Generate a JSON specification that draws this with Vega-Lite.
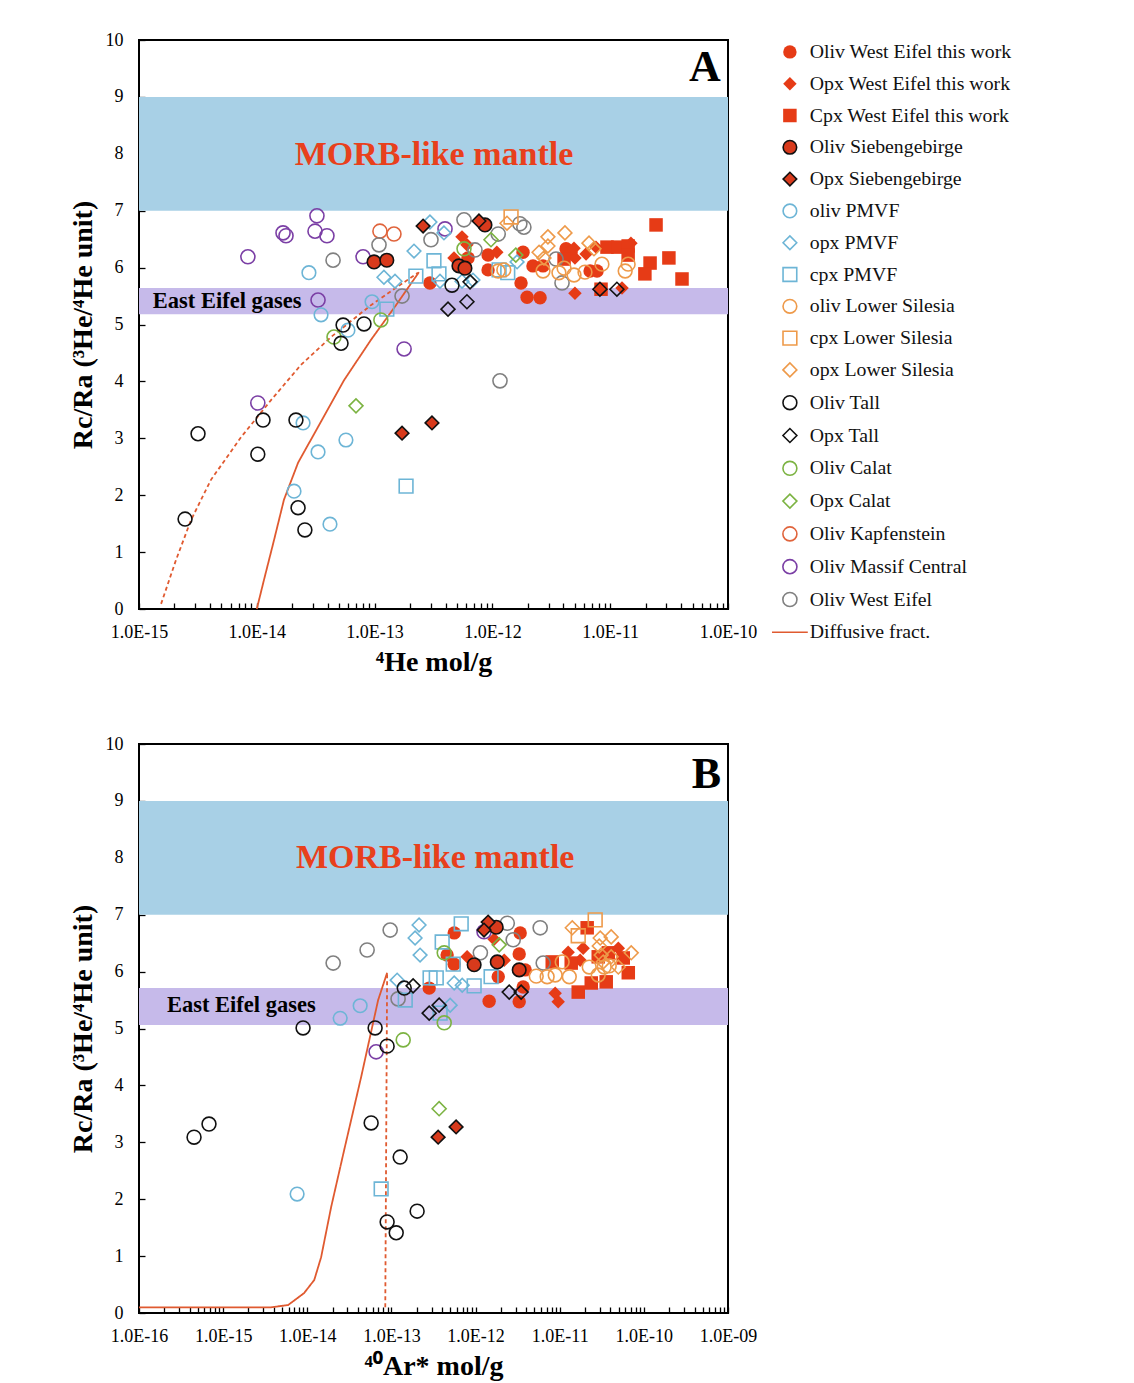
{
  "$schema": "https://vega.github.io/schema/vega-lite/v6.json",
  "background": "white",
  "padding": {"left": 68, "top": 30, "right": 5, "bottom": 2},
  "spacing": 57,
  "datasets": {
    "bandsA": [
      {"band": "MORB", "x": 1e-15, "x2": 1e-10, "y": 7, "y2": 9},
      {"band": "EE", "x": 1e-15, "x2": 1e-10, "y": 5.18, "y2": 5.64}
    ],
    "bandsB": [
      {"band": "MORB", "x": 1e-16, "x2": 1e-9, "y": 7, "y2": 9},
      {"band": "EE", "x": 1e-16, "x2": 1e-9, "y": 5.06, "y2": 5.71}
    ],
    "textA": [
      {"kind": "morb", "label": "MORB-like mantle", "x": 3.19e-13, "y": 7.98},
      {"kind": "ee", "label": "East Eifel gases", "x": 1.31e-15, "y": 5.41},
      {"kind": "panel", "label": "A", "x": 8.7e-11, "y": 9.5}
    ],
    "textB": [
      {"kind": "morb", "label": "MORB-like mantle", "x": 3.31e-13, "y": 8.0},
      {"kind": "ee", "label": "East Eifel gases", "x": 2.15e-16, "y": 5.41},
      {"kind": "panel", "label": "B", "x": 8.3e-10, "y": 9.45}
    ],
    "linesA": [
      {"series": "Diffusive fract.", "curve": "solid", "x": 1.0e-14, "y": 0},
      {"series": "Diffusive fract.", "curve": "solid", "x": 1.15e-14, "y": 0.51},
      {"series": "Diffusive fract.", "curve": "solid", "x": 1.40e-14, "y": 1.21},
      {"series": "Diffusive fract.", "curve": "solid", "x": 1.70e-14, "y": 1.92},
      {"series": "Diffusive fract.", "curve": "solid", "x": 2.24e-14, "y": 2.57},
      {"series": "Diffusive fract.", "curve": "solid", "x": 3.31e-14, "y": 3.20},
      {"series": "Diffusive fract.", "curve": "solid", "x": 5.50e-14, "y": 4.02},
      {"series": "Diffusive fract.", "curve": "solid", "x": 9.31e-14, "y": 4.73},
      {"series": "Diffusive fract.", "curve": "solid", "x": 1.52e-13, "y": 5.34},
      {"series": "Diffusive fract.", "curve": "solid", "x": 2.38e-13, "y": 5.92},
      {"series": "Diffusive fract.", "curve": "dashed", "x": 1.54e-15, "y": 0.09},
      {"series": "Diffusive fract.", "curve": "dashed", "x": 2.06e-15, "y": 0.86},
      {"series": "Diffusive fract.", "curve": "dashed", "x": 2.76e-15, "y": 1.56},
      {"series": "Diffusive fract.", "curve": "dashed", "x": 4.08e-15, "y": 2.27},
      {"series": "Diffusive fract.", "curve": "dashed", "x": 7.35e-15, "y": 3.02},
      {"series": "Diffusive fract.", "curve": "dashed", "x": 1.32e-14, "y": 3.67},
      {"series": "Diffusive fract.", "curve": "dashed", "x": 2.37e-14, "y": 4.29},
      {"series": "Diffusive fract.", "curve": "dashed", "x": 4.27e-14, "y": 4.78},
      {"series": "Diffusive fract.", "curve": "dashed", "x": 9.31e-14, "y": 5.34},
      {"series": "Diffusive fract.", "curve": "dashed", "x": 2.33e-13, "y": 5.91}
    ],
    "linesB": [
      {"series": "Diffusive fract.", "curve": "solid", "x": 1e-16, "y": 0.1},
      {"series": "Diffusive fract.", "curve": "solid", "x": 5.46e-16, "y": 0.1},
      {"series": "Diffusive fract.", "curve": "solid", "x": 3.72e-15, "y": 0.1},
      {"series": "Diffusive fract.", "curve": "solid", "x": 5.92e-15, "y": 0.14},
      {"series": "Diffusive fract.", "curve": "solid", "x": 9.16e-15, "y": 0.35},
      {"series": "Diffusive fract.", "curve": "solid", "x": 1.21e-14, "y": 0.58},
      {"series": "Diffusive fract.", "curve": "solid", "x": 1.46e-14, "y": 0.98},
      {"series": "Diffusive fract.", "curve": "solid", "x": 1.92e-14, "y": 1.86},
      {"series": "Diffusive fract.", "curve": "solid", "x": 2.74e-14, "y": 2.86},
      {"series": "Diffusive fract.", "curve": "solid", "x": 4.37e-14, "y": 4.15},
      {"series": "Diffusive fract.", "curve": "solid", "x": 6.95e-14, "y": 5.50},
      {"series": "Diffusive fract.", "curve": "solid", "x": 8.89e-14, "y": 5.98},
      {"series": "Diffusive fract.", "curve": "dashed", "x": 8.45e-14, "y": 0.1},
      {"series": "Diffusive fract.", "curve": "dashed", "x": 8.89e-14, "y": 5.98}
    ],
    "ptsA": [
      {"series": "Oliv West Eifel this work", "x": 2.95e-13, "y": 5.73},
      {"series": "Oliv West Eifel this work", "x": 6.21e-13, "y": 6.17},
      {"series": "Oliv West Eifel this work", "x": 9.19e-13, "y": 6.22},
      {"series": "Oliv West Eifel this work", "x": 9.19e-13, "y": 5.96},
      {"series": "Oliv West Eifel this work", "x": 1.82e-12, "y": 6.27},
      {"series": "Oliv West Eifel this work", "x": 1.75e-12, "y": 5.73},
      {"series": "Oliv West Eifel this work", "x": 1.97e-12, "y": 5.48},
      {"series": "Oliv West Eifel this work", "x": 2.54e-12, "y": 5.47},
      {"series": "Oliv West Eifel this work", "x": 2.21e-12, "y": 6.03},
      {"series": "Oliv West Eifel this work", "x": 2.69e-12, "y": 6.03},
      {"series": "Oliv West Eifel this work", "x": 4.22e-12, "y": 6.33},
      {"series": "Oliv West Eifel this work", "x": 4.65e-12, "y": 6.27},
      {"series": "Oliv West Eifel this work", "x": 6.75e-12, "y": 5.94},
      {"series": "Oliv West Eifel this work", "x": 7.73e-12, "y": 5.94},
      {"series": "Opx West Eifel this work", "x": 4.72e-13, "y": 6.17},
      {"series": "Opx West Eifel this work", "x": 5.52e-13, "y": 6.54},
      {"series": "Opx West Eifel this work", "x": 6.08e-13, "y": 6.40},
      {"series": "Opx West Eifel this work", "x": 1.09e-12, "y": 6.27},
      {"series": "Opx West Eifel this work", "x": 5.02e-12, "y": 5.55},
      {"series": "Opx West Eifel this work", "x": 1.26e-11, "y": 5.64},
      {"series": "Opx West Eifel this work", "x": 6.24e-12, "y": 6.24},
      {"series": "Opx West Eifel this work", "x": 5.02e-12, "y": 6.17},
      {"series": "Opx West Eifel this work", "x": 4.93e-12, "y": 6.34},
      {"series": "Opx West Eifel this work", "x": 7.57e-12, "y": 6.36},
      {"series": "Opx West Eifel this work", "x": 1.50e-11, "y": 6.43},
      {"series": "Cpx West Eifel this work", "x": 2.45e-11, "y": 6.75},
      {"series": "Cpx West Eifel this work", "x": 3.15e-11, "y": 6.17},
      {"series": "Cpx West Eifel this work", "x": 4.07e-11, "y": 5.80},
      {"series": "Cpx West Eifel this work", "x": 2.18e-11, "y": 6.08},
      {"series": "Cpx West Eifel this work", "x": 1.97e-11, "y": 5.89},
      {"series": "Cpx West Eifel this work", "x": 9.39e-12, "y": 6.36},
      {"series": "Cpx West Eifel this work", "x": 1.16e-11, "y": 6.36},
      {"series": "Cpx West Eifel this work", "x": 1.42e-11, "y": 6.38},
      {"series": "Cpx West Eifel this work", "x": 1.42e-11, "y": 6.22},
      {"series": "Cpx West Eifel this work", "x": 4.06e-12, "y": 6.15},
      {"series": "Cpx West Eifel this work", "x": 8.36e-12, "y": 5.62},
      {"series": "Oliv Massif Central", "x": 3.24e-14, "y": 6.91},
      {"series": "Oliv Massif Central", "x": 1.67e-14, "y": 6.61},
      {"series": "Oliv Massif Central", "x": 1.77e-14, "y": 6.56},
      {"series": "Oliv Massif Central", "x": 3.12e-14, "y": 6.64},
      {"series": "Oliv Massif Central", "x": 3.94e-14, "y": 6.56},
      {"series": "Oliv Massif Central", "x": 8.4e-15, "y": 6.19},
      {"series": "Oliv Massif Central", "x": 7.98e-14, "y": 6.19},
      {"series": "Oliv Massif Central", "x": 3.31e-14, "y": 5.43},
      {"series": "Oliv Massif Central", "x": 1.78e-13, "y": 4.57},
      {"series": "Oliv Massif Central", "x": 1.02e-14, "y": 3.62},
      {"series": "Oliv Massif Central", "x": 3.96e-13, "y": 6.68},
      {"series": "Oliv Kapfenstein", "x": 1.11e-13, "y": 6.64},
      {"series": "Oliv Kapfenstein", "x": 1.46e-13, "y": 6.59},
      {"series": "Oliv West Eifel", "x": 4.44e-14, "y": 6.13},
      {"series": "Oliv West Eifel", "x": 1.09e-13, "y": 6.40},
      {"series": "Oliv West Eifel", "x": 1.71e-13, "y": 5.50},
      {"series": "Oliv West Eifel", "x": 3.01e-13, "y": 6.49},
      {"series": "Oliv West Eifel", "x": 5.74e-13, "y": 6.84},
      {"series": "Oliv West Eifel", "x": 7.11e-13, "y": 6.31},
      {"series": "Oliv West Eifel", "x": 1.12e-12, "y": 6.59},
      {"series": "Oliv West Eifel", "x": 1.71e-12, "y": 6.77},
      {"series": "Oliv West Eifel", "x": 1.85e-12, "y": 6.71},
      {"series": "Oliv West Eifel", "x": 3.47e-12, "y": 6.15},
      {"series": "Oliv West Eifel", "x": 3.90e-12, "y": 5.73},
      {"series": "Oliv West Eifel", "x": 1.16e-12, "y": 4.01},
      {"series": "oliv PMVF", "x": 2.77e-14, "y": 5.91},
      {"series": "oliv PMVF", "x": 3.51e-14, "y": 5.17},
      {"series": "oliv PMVF", "x": 5.94e-14, "y": 4.90},
      {"series": "oliv PMVF", "x": 9.51e-14, "y": 5.40},
      {"series": "oliv PMVF", "x": 2.47e-14, "y": 3.27},
      {"series": "oliv PMVF", "x": 3.31e-14, "y": 2.76},
      {"series": "oliv PMVF", "x": 5.71e-14, "y": 2.97},
      {"series": "oliv PMVF", "x": 2.07e-14, "y": 2.07},
      {"series": "oliv PMVF", "x": 4.18e-14, "y": 1.49},
      {"series": "opx PMVF", "x": 1.20e-13, "y": 5.83},
      {"series": "opx PMVF", "x": 1.49e-13, "y": 5.76},
      {"series": "opx PMVF", "x": 2.16e-13, "y": 6.29},
      {"series": "opx PMVF", "x": 2.95e-13, "y": 6.80},
      {"series": "opx PMVF", "x": 3.88e-13, "y": 6.61},
      {"series": "opx PMVF", "x": 3.59e-13, "y": 5.76},
      {"series": "opx PMVF", "x": 5.52e-13, "y": 5.76},
      {"series": "opx PMVF", "x": 6.84e-13, "y": 5.78},
      {"series": "opx PMVF", "x": 1.62e-12, "y": 6.10},
      {"series": "cpx PMVF", "x": 1.27e-13, "y": 5.27},
      {"series": "cpx PMVF", "x": 2.24e-13, "y": 5.85},
      {"series": "cpx PMVF", "x": 3.19e-13, "y": 6.12},
      {"series": "cpx PMVF", "x": 3.52e-13, "y": 5.89},
      {"series": "cpx PMVF", "x": 1.14e-12, "y": 5.96},
      {"series": "cpx PMVF", "x": 1.35e-12, "y": 5.91},
      {"series": "cpx PMVF", "x": 1.85e-13, "y": 2.16},
      {"series": "oliv Lower Silesia", "x": 1.12e-12, "y": 5.94},
      {"series": "oliv Lower Silesia", "x": 1.25e-12, "y": 5.96},
      {"series": "oliv Lower Silesia", "x": 2.69e-12, "y": 5.94},
      {"series": "oliv Lower Silesia", "x": 3.67e-12, "y": 5.91},
      {"series": "oliv Lower Silesia", "x": 4.93e-12, "y": 5.87},
      {"series": "oliv Lower Silesia", "x": 6.11e-12, "y": 5.92},
      {"series": "oliv Lower Silesia", "x": 8.51e-12, "y": 6.06},
      {"series": "oliv Lower Silesia", "x": 1.34e-11, "y": 5.94},
      {"series": "oliv Lower Silesia", "x": 1.42e-11, "y": 6.06},
      {"series": "oliv Lower Silesia", "x": 4.06e-12, "y": 5.99},
      {"series": "cpx Lower Silesia", "x": 1.44e-12, "y": 6.89},
      {"series": "opx Lower Silesia", "x": 1.33e-12, "y": 6.78},
      {"series": "opx Lower Silesia", "x": 2.96e-12, "y": 6.54},
      {"series": "opx Lower Silesia", "x": 4.13e-12, "y": 6.61},
      {"series": "opx Lower Silesia", "x": 2.96e-12, "y": 6.38},
      {"series": "opx Lower Silesia", "x": 2.49e-12, "y": 6.27},
      {"series": "opx Lower Silesia", "x": 2.74e-12, "y": 6.17},
      {"series": "opx Lower Silesia", "x": 6.61e-12, "y": 6.43},
      {"series": "opx Lower Silesia", "x": 7.28e-12, "y": 6.33},
      {"series": "Oliv Calat", "x": 4.52e-14, "y": 4.78},
      {"series": "Oliv Calat", "x": 1.13e-13, "y": 5.08},
      {"series": "Oliv Calat", "x": 5.74e-13, "y": 6.33},
      {"series": "Opx Calat", "x": 6.95e-14, "y": 3.57},
      {"series": "Opx Calat", "x": 9.73e-13, "y": 6.49},
      {"series": "Opx Calat", "x": 1.58e-12, "y": 6.22},
      {"series": "Oliv Tall", "x": 2.46e-15, "y": 1.58},
      {"series": "Oliv Tall", "x": 3.17e-15, "y": 3.08},
      {"series": "Oliv Tall", "x": 1.02e-14, "y": 2.72},
      {"series": "Oliv Tall", "x": 1.13e-14, "y": 3.32},
      {"series": "Oliv Tall", "x": 2.15e-14, "y": 3.32},
      {"series": "Oliv Tall", "x": 2.24e-14, "y": 1.78},
      {"series": "Oliv Tall", "x": 2.56e-14, "y": 1.39},
      {"series": "Oliv Tall", "x": 5.40e-14, "y": 4.99},
      {"series": "Oliv Tall", "x": 8.13e-14, "y": 5.01},
      {"series": "Oliv Tall", "x": 5.19e-14, "y": 4.67},
      {"series": "Oliv Tall", "x": 4.54e-13, "y": 5.69},
      {"series": "Opx Tall", "x": 4.2e-13, "y": 5.27},
      {"series": "Opx Tall", "x": 6.08e-13, "y": 5.40},
      {"series": "Opx Tall", "x": 6.46e-13, "y": 5.75},
      {"series": "Opx Tall", "x": 8.18e-12, "y": 5.62},
      {"series": "Opx Tall", "x": 1.14e-11, "y": 5.62},
      {"series": "Oliv Siebengebirge", "x": 9.89e-14, "y": 6.10},
      {"series": "Oliv Siebengebirge", "x": 1.27e-13, "y": 6.13},
      {"series": "Oliv Siebengebirge", "x": 5.2e-13, "y": 6.03},
      {"series": "Oliv Siebengebirge", "x": 5.85e-13, "y": 5.99},
      {"series": "Oliv Siebengebirge", "x": 8.65e-13, "y": 6.75},
      {"series": "Opx Siebengebirge", "x": 2.58e-13, "y": 6.73},
      {"series": "Opx Siebengebirge", "x": 7.69e-13, "y": 6.82},
      {"series": "Opx Siebengebirge", "x": 1.71e-13, "y": 3.09},
      {"series": "Opx Siebengebirge", "x": 3.07e-13, "y": 3.27}
    ],
    "ptsB": [
      {"series": "Oliv West Eifel this work", "x": 5.57e-13, "y": 6.68},
      {"series": "Oliv West Eifel this work", "x": 4.59e-13, "y": 6.29},
      {"series": "Oliv West Eifel this work", "x": 5.57e-13, "y": 6.13},
      {"series": "Oliv West Eifel this work", "x": 2.81e-13, "y": 5.71},
      {"series": "Oliv West Eifel this work", "x": 1.45e-12, "y": 5.48},
      {"series": "Oliv West Eifel this work", "x": 3.39e-12, "y": 6.68},
      {"series": "Oliv West Eifel this work", "x": 3.30e-12, "y": 6.31},
      {"series": "Oliv West Eifel this work", "x": 3.30e-12, "y": 5.47},
      {"series": "Oliv West Eifel this work", "x": 1.86e-12, "y": 5.91},
      {"series": "Oliv West Eifel this work", "x": 3.89e-12, "y": 6.03},
      {"series": "Oliv West Eifel this work", "x": 3.68e-12, "y": 5.73},
      {"series": "Opx West Eifel this work", "x": 7.94e-13, "y": 6.26},
      {"series": "Opx West Eifel this work", "x": 1.66e-12, "y": 6.57},
      {"series": "Opx West Eifel this work", "x": 2.19e-12, "y": 6.20},
      {"series": "Opx West Eifel this work", "x": 1.26e-11, "y": 6.34},
      {"series": "Opx West Eifel this work", "x": 1.90e-11, "y": 6.41},
      {"series": "Opx West Eifel this work", "x": 1.75e-11, "y": 6.20},
      {"series": "Opx West Eifel this work", "x": 8.83e-12, "y": 5.62},
      {"series": "Opx West Eifel this work", "x": 9.59e-12, "y": 5.47},
      {"series": "Opx West Eifel this work", "x": 4.97e-11, "y": 6.41},
      {"series": "Cpx West Eifel this work", "x": 8.15e-12, "y": 6.17},
      {"series": "Cpx West Eifel this work", "x": 1.37e-11, "y": 6.15},
      {"series": "Cpx West Eifel this work", "x": 2.12e-11, "y": 6.77},
      {"series": "Cpx West Eifel this work", "x": 2.87e-11, "y": 6.26},
      {"series": "Cpx West Eifel this work", "x": 2.37e-11, "y": 5.80},
      {"series": "Cpx West Eifel this work", "x": 3.57e-11, "y": 5.82},
      {"series": "Cpx West Eifel this work", "x": 1.66e-11, "y": 5.64},
      {"series": "Cpx West Eifel this work", "x": 5.69e-11, "y": 6.24},
      {"series": "Cpx West Eifel this work", "x": 6.53e-11, "y": 5.98},
      {"series": "Cpx West Eifel this work", "x": 3.78e-11, "y": 6.33},
      {"series": "Oliv Massif Central", "x": 6.58e-14, "y": 4.59},
      {"series": "Oliv Massif Central", "x": 1.26e-12, "y": 6.70},
      {"series": "Oliv West Eifel", "x": 9.66e-14, "y": 6.73},
      {"series": "Oliv West Eifel", "x": 5.14e-14, "y": 6.38},
      {"series": "Oliv West Eifel", "x": 2.03e-14, "y": 6.15},
      {"series": "Oliv West Eifel", "x": 1.14e-12, "y": 6.33},
      {"series": "Oliv West Eifel", "x": 2.38e-12, "y": 6.85},
      {"series": "Oliv West Eifel", "x": 2.80e-12, "y": 6.56},
      {"series": "Oliv West Eifel", "x": 1.20e-13, "y": 5.52},
      {"series": "Oliv West Eifel", "x": 5.86e-12, "y": 6.77},
      {"series": "Oliv West Eifel", "x": 6.37e-12, "y": 6.15},
      {"series": "oliv PMVF", "x": 7.57e-15, "y": 2.09},
      {"series": "oliv PMVF", "x": 2.46e-14, "y": 5.18},
      {"series": "oliv PMVF", "x": 4.25e-14, "y": 5.40},
      {"series": "opx PMVF", "x": 2.13e-13, "y": 6.82},
      {"series": "opx PMVF", "x": 1.91e-13, "y": 6.59},
      {"series": "opx PMVF", "x": 2.19e-13, "y": 6.29},
      {"series": "opx PMVF", "x": 1.17e-13, "y": 5.85},
      {"series": "opx PMVF", "x": 5.57e-13, "y": 5.80},
      {"series": "opx PMVF", "x": 6.94e-13, "y": 5.76},
      {"series": "opx PMVF", "x": 4.99e-13, "y": 5.41},
      {"series": "cpx PMVF", "x": 6.75e-13, "y": 6.84},
      {"series": "cpx PMVF", "x": 4.01e-13, "y": 6.52},
      {"series": "cpx PMVF", "x": 5.42e-13, "y": 6.13},
      {"series": "cpx PMVF", "x": 2.88e-13, "y": 5.89},
      {"series": "cpx PMVF", "x": 3.41e-13, "y": 5.89},
      {"series": "cpx PMVF", "x": 9.62e-13, "y": 5.75},
      {"series": "cpx PMVF", "x": 1.46e-13, "y": 5.50},
      {"series": "cpx PMVF", "x": 3.79e-13, "y": 5.27},
      {"series": "cpx PMVF", "x": 1.53e-12, "y": 5.91},
      {"series": "cpx PMVF", "x": 7.55e-14, "y": 2.18},
      {"series": "oliv Lower Silesia", "x": 5.26e-12, "y": 5.92},
      {"series": "oliv Lower Silesia", "x": 7.09e-12, "y": 5.91},
      {"series": "oliv Lower Silesia", "x": 8.83e-12, "y": 5.94},
      {"series": "oliv Lower Silesia", "x": 1.07e-11, "y": 6.17},
      {"series": "oliv Lower Silesia", "x": 1.30e-11, "y": 5.91},
      {"series": "oliv Lower Silesia", "x": 2.24e-11, "y": 6.08},
      {"series": "oliv Lower Silesia", "x": 2.87e-11, "y": 5.94},
      {"series": "oliv Lower Silesia", "x": 3.38e-11, "y": 6.08},
      {"series": "oliv Lower Silesia", "x": 3.88e-11, "y": 6.10},
      {"series": "cpx Lower Silesia", "x": 1.66e-11, "y": 6.63},
      {"series": "cpx Lower Silesia", "x": 2.64e-11, "y": 6.91},
      {"series": "opx Lower Silesia", "x": 1.41e-11, "y": 6.77},
      {"series": "opx Lower Silesia", "x": 3.03e-11, "y": 6.59},
      {"series": "opx Lower Silesia", "x": 4.09e-11, "y": 6.61},
      {"series": "opx Lower Silesia", "x": 3.11e-11, "y": 6.29},
      {"series": "opx Lower Silesia", "x": 4.09e-11, "y": 6.26},
      {"series": "opx Lower Silesia", "x": 7.08e-11, "y": 6.33},
      {"series": "opx Lower Silesia", "x": 3.29e-11, "y": 6.17},
      {"series": "opx Lower Silesia", "x": 4.97e-11, "y": 6.08},
      {"series": "opx Lower Silesia", "x": 2.95e-11, "y": 6.45},
      {"series": "Oliv Calat", "x": 1.38e-13, "y": 4.80},
      {"series": "Oliv Calat", "x": 4.24e-13, "y": 5.10},
      {"series": "Oliv Calat", "x": 4.24e-13, "y": 6.33},
      {"series": "Opx Calat", "x": 3.69e-13, "y": 3.59},
      {"series": "Opx Calat", "x": 1.91e-12, "y": 6.47},
      {"series": "Oliv Tall", "x": 4.51e-16, "y": 3.09},
      {"series": "Oliv Tall", "x": 6.79e-16, "y": 3.32},
      {"series": "Oliv Tall", "x": 8.91e-15, "y": 5.01},
      {"series": "Oliv Tall", "x": 6.40e-14, "y": 5.01},
      {"series": "Oliv Tall", "x": 8.89e-14, "y": 4.69},
      {"series": "Oliv Tall", "x": 5.74e-14, "y": 3.34},
      {"series": "Oliv Tall", "x": 1.27e-13, "y": 2.74},
      {"series": "Oliv Tall", "x": 2.02e-13, "y": 1.79},
      {"series": "Oliv Tall", "x": 8.89e-14, "y": 1.60},
      {"series": "Oliv Tall", "x": 1.14e-13, "y": 1.41},
      {"series": "Oliv Tall", "x": 1.42e-13, "y": 5.71},
      {"series": "Opx Tall", "x": 1.81e-13, "y": 5.75},
      {"series": "Opx Tall", "x": 2.81e-13, "y": 5.27},
      {"series": "Opx Tall", "x": 3.69e-13, "y": 5.41},
      {"series": "Opx Tall", "x": 2.51e-12, "y": 5.64},
      {"series": "Opx Tall", "x": 3.48e-12, "y": 5.64},
      {"series": "Oliv Siebengebirge", "x": 9.62e-13, "y": 6.12},
      {"series": "Oliv Siebengebirge", "x": 1.76e-12, "y": 6.78},
      {"series": "Oliv Siebengebirge", "x": 1.81e-12, "y": 6.17},
      {"series": "Oliv Siebengebirge", "x": 3.30e-12, "y": 6.03},
      {"series": "Opx Siebengebirge", "x": 1.41e-12, "y": 6.87},
      {"series": "Opx Siebengebirge", "x": 1.26e-12, "y": 6.73},
      {"series": "Opx Siebengebirge", "x": 3.59e-13, "y": 3.09},
      {"series": "Opx Siebengebirge", "x": 5.87e-13, "y": 3.27}
    ]
  },
  "vconcat": [
    {
      "width": 589,
      "height": 569,
      "encoding": {
        "x": {"field": "x", "type": "quantitative",
          "scale": {"type": "log", "domain": [1e-15, 1e-10], "nice": false},
          "axis": {"title": "⁴He mol/g",
            "values": [1e-15,2e-15,3e-15,4e-15,5e-15,6e-15,7e-15,8e-15,9e-15,1e-14,2e-14,3e-14,4e-14,5e-14,6e-14,7e-14,8e-14,9e-14,1e-13,2e-13,3e-13,4e-13,5e-13,6e-13,7e-13,8e-13,9e-13,1e-12,2e-12,3e-12,4e-12,5e-12,6e-12,7e-12,8e-12,9e-12,1e-11,2e-11,3e-11,4e-11,5e-11,6e-11,7e-11,8e-11,9e-11,1e-10],
            "labelExpr": "abs(log(datum.value)/LN10 - round(log(datum.value)/LN10)) < 0.01 ? (round(log(datum.value)/LN10) <= -10 ? '1.0E' + round(log(datum.value)/LN10) : '1.0E-0' + abs(round(log(datum.value)/LN10))) : ''"}},
        "y": {"field": "y", "type": "quantitative",
          "scale": {"domain": [0, 10], "nice": false},
          "axis": {"title": "Rc/Ra (³He/⁴He unit)", "values": [0,1,2,3,4,5,6,7,8,9,10]}}
      },
      "layer": [
        {"data": {"name": "bandsA"}, "transform": [{"filter": "datum.band === 'MORB'"}],
          "mark": {"type": "rect", "color": "#a8d0e6"},
          "encoding": {"x2": {"field": "x2"}, "y2": {"field": "y2"}}},
        {"data": {"name": "bandsA"}, "transform": [{"filter": "datum.band === 'EE'"}],
          "mark": {"type": "rect", "color": "#c6baea"},
          "encoding": {"x2": {"field": "x2"}, "y2": {"field": "y2"}}},
        {"data": {"name": "textA"}, "transform": [{"filter": "datum.kind === 'morb'"}],
          "mark": {"type": "text", "font": "Liberation Serif", "fontWeight": "bold", "fontSize": 34, "color": "#e8401c", "align": "center", "baseline": "middle"},
          "encoding": {"text": {"field": "label"}}},
        {"data": {"name": "textA"}, "transform": [{"filter": "datum.kind === 'ee'"}],
          "mark": {"type": "text", "font": "Liberation Serif", "fontWeight": "bold", "fontSize": 22.5, "color": "#000", "align": "left", "baseline": "middle"},
          "encoding": {"text": {"field": "label"}}},
        {"data": {"name": "textA"}, "transform": [{"filter": "datum.kind === 'panel'"}],
          "mark": {"type": "text", "font": "Liberation Serif", "fontWeight": "bold", "fontSize": 44, "color": "#000", "align": "right", "baseline": "middle"},
          "encoding": {"text": {"field": "label"}}},
        {"data": {"name": "linesA"},
          "mark": {"type": "line", "strokeWidth": 1.8},
          "encoding": {
            "detail": {"field": "curve"},
            "strokeDash": {"field": "curve", "scale": {"domain": ["solid", "dashed"], "range": [[1, 0], [4, 3]]}, "legend": null},
            "stroke": {"field": "series", "type": "nominal",
              "scale": {"domain": ["Oliv West Eifel this work","Opx West Eifel this work","Cpx West Eifel this work","Oliv Siebengebirge","Opx Siebengebirge","oliv PMVF","opx PMVF","cpx PMVF","oliv Lower Silesia","cpx Lower Silesia","opx Lower Silesia","Oliv Tall","Opx Tall","Oliv Calat","Opx Calat","Oliv Kapfenstein","Oliv Massif Central","Oliv West Eifel","Diffusive fract."],
                "range": ["transparent","transparent","transparent","#111111","#111111","#6db5d6","#6db5d6","#6db5d6","#ee9a4a","#ee9a4a","#ee9a4a","#111111","#111111","#7cb342","#7cb342","#e0643c","#7b3fa5","#808080","#e05a30"]},
              "legend": {"title": null, "orient": "none", "legendX": 641, "legendY": 2, "labelFont": "Liberation Serif", "labelFontSize": 19.8, "labelColor": "#111", "rowPadding": 10.8, "labelOffset": 10, "labelLimit": 400, "symbolStrokeWidth": 1.6, "symbolSize": 95}}
          }},
        {"data": {"name": "ptsA"},
          "mark": {"type": "point", "strokeWidth": 1.6, "opacity": 1},
          "encoding": {
            "fill": {"field": "series", "type": "nominal",
              "scale": {"domain": ["Oliv West Eifel this work","Opx West Eifel this work","Cpx West Eifel this work","Oliv Siebengebirge","Opx Siebengebirge","oliv PMVF","opx PMVF","cpx PMVF","oliv Lower Silesia","cpx Lower Silesia","opx Lower Silesia","Oliv Tall","Opx Tall","Oliv Calat","Opx Calat","Oliv Kapfenstein","Oliv Massif Central","Oliv West Eifel","Diffusive fract."],
                "range": ["#e63b16","#e63b16","#e63b16","#d83a1c","#d83a1c","transparent","transparent","transparent","transparent","transparent","transparent","transparent","transparent","transparent","transparent","transparent","transparent","transparent","transparent"]},
              "legend": {"title": null, "orient": "none", "legendX": 641, "legendY": 2, "labelFont": "Liberation Serif", "labelFontSize": 19.8, "labelColor": "#111", "rowPadding": 10.8, "labelOffset": 10, "labelLimit": 400, "symbolStrokeWidth": 1.6, "symbolSize": 95}},
            "stroke": {"field": "series", "type": "nominal",
              "scale": {"domain": ["Oliv West Eifel this work","Opx West Eifel this work","Cpx West Eifel this work","Oliv Siebengebirge","Opx Siebengebirge","oliv PMVF","opx PMVF","cpx PMVF","oliv Lower Silesia","cpx Lower Silesia","opx Lower Silesia","Oliv Tall","Opx Tall","Oliv Calat","Opx Calat","Oliv Kapfenstein","Oliv Massif Central","Oliv West Eifel","Diffusive fract."],
                "range": ["transparent","transparent","transparent","#111111","#111111","#6db5d6","#6db5d6","#6db5d6","#ee9a4a","#ee9a4a","#ee9a4a","#111111","#111111","#7cb342","#7cb342","#e0643c","#7b3fa5","#808080","#e05a30"]},
              "legend": {"title": null, "orient": "none", "legendX": 641, "legendY": 2, "labelFont": "Liberation Serif", "labelFontSize": 19.8, "labelColor": "#111", "rowPadding": 10.8, "labelOffset": 10, "labelLimit": 400, "symbolStrokeWidth": 1.6, "symbolSize": 95}},
            "shape": {"field": "series", "type": "nominal",
              "scale": {"domain": ["Oliv West Eifel this work","Opx West Eifel this work","Cpx West Eifel this work","Oliv Siebengebirge","Opx Siebengebirge","oliv PMVF","opx PMVF","cpx PMVF","oliv Lower Silesia","cpx Lower Silesia","opx Lower Silesia","Oliv Tall","Opx Tall","Oliv Calat","Opx Calat","Oliv Kapfenstein","Oliv Massif Central","Oliv West Eifel","Diffusive fract."],
                "range": ["circle","diamond","square","circle","diamond","circle","diamond","square","circle","square","diamond","circle","diamond","circle","diamond","circle","circle","circle","M-2.53,0L2.53,0"]},
              "legend": {"title": null, "orient": "none", "legendX": 641, "legendY": 2, "labelFont": "Liberation Serif", "labelFontSize": 19.8, "labelColor": "#111", "rowPadding": 10.8, "labelOffset": 10, "labelLimit": 400, "symbolStrokeWidth": 1.6, "symbolSize": 95}},
            "size": {"field": "series", "type": "nominal",
              "scale": {"domain": ["Oliv West Eifel this work","Opx West Eifel this work","Cpx West Eifel this work","Oliv Siebengebirge","Opx Siebengebirge","oliv PMVF","opx PMVF","cpx PMVF","oliv Lower Silesia","cpx Lower Silesia","opx Lower Silesia","Oliv Tall","Opx Tall","Oliv Calat","Opx Calat","Oliv Kapfenstein","Oliv Massif Central","Oliv West Eifel","Diffusive fract."],
                "range": [180,200,190,190,200,95,95,110,95,110,95,100,95,100,95,100,100,100,100]},
              "legend": null}
          }}
      ]
    },
    {
      "width": 589,
      "height": 569,
      "encoding": {
        "x": {"field": "x", "type": "quantitative",
          "scale": {"type": "log", "domain": [1e-16, 1e-9], "nice": false},
          "axis": {"title": "⁴⁰Ar* mol/g",
            "values": [1e-16,2e-16,3e-16,4e-16,5e-16,6e-16,7e-16,8e-16,9e-16,1e-15,2e-15,3e-15,4e-15,5e-15,6e-15,7e-15,8e-15,9e-15,1e-14,2e-14,3e-14,4e-14,5e-14,6e-14,7e-14,8e-14,9e-14,1e-13,2e-13,3e-13,4e-13,5e-13,6e-13,7e-13,8e-13,9e-13,1e-12,2e-12,3e-12,4e-12,5e-12,6e-12,7e-12,8e-12,9e-12,1e-11,2e-11,3e-11,4e-11,5e-11,6e-11,7e-11,8e-11,9e-11,1e-10,2e-10,3e-10,4e-10,5e-10,6e-10,7e-10,8e-10,9e-10,1e-9],
            "labelExpr": "abs(log(datum.value)/LN10 - round(log(datum.value)/LN10)) < 0.01 ? (round(log(datum.value)/LN10) <= -10 ? '1.0E' + round(log(datum.value)/LN10) : '1.0E-0' + abs(round(log(datum.value)/LN10))) : ''"}},
        "y": {"field": "y", "type": "quantitative",
          "scale": {"domain": [0, 10], "nice": false},
          "axis": {"title": "Rc/Ra (³He/⁴He unit)", "values": [0,1,2,3,4,5,6,7,8,9,10]}}
      },
      "layer": [
        {"data": {"name": "bandsB"}, "transform": [{"filter": "datum.band === 'MORB'"}],
          "mark": {"type": "rect", "color": "#a8d0e6"},
          "encoding": {"x2": {"field": "x2"}, "y2": {"field": "y2"}}},
        {"data": {"name": "bandsB"}, "transform": [{"filter": "datum.band === 'EE'"}],
          "mark": {"type": "rect", "color": "#c6baea"},
          "encoding": {"x2": {"field": "x2"}, "y2": {"field": "y2"}}},
        {"data": {"name": "textB"}, "transform": [{"filter": "datum.kind === 'morb'"}],
          "mark": {"type": "text", "font": "Liberation Serif", "fontWeight": "bold", "fontSize": 34, "color": "#e8401c", "align": "center", "baseline": "middle"},
          "encoding": {"text": {"field": "label"}}},
        {"data": {"name": "textB"}, "transform": [{"filter": "datum.kind === 'ee'"}],
          "mark": {"type": "text", "font": "Liberation Serif", "fontWeight": "bold", "fontSize": 22.5, "color": "#000", "align": "left", "baseline": "middle"},
          "encoding": {"text": {"field": "label"}}},
        {"data": {"name": "textB"}, "transform": [{"filter": "datum.kind === 'panel'"}],
          "mark": {"type": "text", "font": "Liberation Serif", "fontWeight": "bold", "fontSize": 44, "color": "#000", "align": "right", "baseline": "middle"},
          "encoding": {"text": {"field": "label"}}},
        {"data": {"name": "linesB"},
          "mark": {"type": "line", "strokeWidth": 1.8},
          "encoding": {
            "detail": {"field": "curve"},
            "strokeDash": {"field": "curve", "scale": {"domain": ["solid", "dashed"], "range": [[1, 0], [4, 3]]}, "legend": null},
            "stroke": {"field": "series", "type": "nominal",
              "scale": {"domain": ["Oliv West Eifel this work","Opx West Eifel this work","Cpx West Eifel this work","Oliv Siebengebirge","Opx Siebengebirge","oliv PMVF","opx PMVF","cpx PMVF","oliv Lower Silesia","cpx Lower Silesia","opx Lower Silesia","Oliv Tall","Opx Tall","Oliv Calat","Opx Calat","Oliv Kapfenstein","Oliv Massif Central","Oliv West Eifel","Diffusive fract."],
                "range": ["transparent","transparent","transparent","#111111","#111111","#6db5d6","#6db5d6","#6db5d6","#ee9a4a","#ee9a4a","#ee9a4a","#111111","#111111","#7cb342","#7cb342","#e0643c","#7b3fa5","#808080","#e05a30"]},
              "legend": {"title": null, "orient": "none", "legendX": 641, "legendY": 2, "labelFont": "Liberation Serif", "labelFontSize": 19.8, "labelColor": "#111", "rowPadding": 10.8, "labelOffset": 10, "labelLimit": 400, "symbolStrokeWidth": 1.6, "symbolSize": 95}}
          }},
        {"data": {"name": "ptsB"},
          "mark": {"type": "point", "strokeWidth": 1.6, "opacity": 1},
          "encoding": {
            "fill": {"field": "series", "type": "nominal",
              "scale": {"domain": ["Oliv West Eifel this work","Opx West Eifel this work","Cpx West Eifel this work","Oliv Siebengebirge","Opx Siebengebirge","oliv PMVF","opx PMVF","cpx PMVF","oliv Lower Silesia","cpx Lower Silesia","opx Lower Silesia","Oliv Tall","Opx Tall","Oliv Calat","Opx Calat","Oliv Kapfenstein","Oliv Massif Central","Oliv West Eifel","Diffusive fract."],
                "range": ["#e63b16","#e63b16","#e63b16","#d83a1c","#d83a1c","transparent","transparent","transparent","transparent","transparent","transparent","transparent","transparent","transparent","transparent","transparent","transparent","transparent","transparent"]},
              "legend": {"title": null, "orient": "none", "legendX": 641, "legendY": 2, "labelFont": "Liberation Serif", "labelFontSize": 19.8, "labelColor": "#111", "rowPadding": 10.8, "labelOffset": 10, "labelLimit": 400, "symbolStrokeWidth": 1.6, "symbolSize": 95}},
            "stroke": {"field": "series", "type": "nominal",
              "scale": {"domain": ["Oliv West Eifel this work","Opx West Eifel this work","Cpx West Eifel this work","Oliv Siebengebirge","Opx Siebengebirge","oliv PMVF","opx PMVF","cpx PMVF","oliv Lower Silesia","cpx Lower Silesia","opx Lower Silesia","Oliv Tall","Opx Tall","Oliv Calat","Opx Calat","Oliv Kapfenstein","Oliv Massif Central","Oliv West Eifel","Diffusive fract."],
                "range": ["transparent","transparent","transparent","#111111","#111111","#6db5d6","#6db5d6","#6db5d6","#ee9a4a","#ee9a4a","#ee9a4a","#111111","#111111","#7cb342","#7cb342","#e0643c","#7b3fa5","#808080","#e05a30"]},
              "legend": {"title": null, "orient": "none", "legendX": 641, "legendY": 2, "labelFont": "Liberation Serif", "labelFontSize": 19.8, "labelColor": "#111", "rowPadding": 10.8, "labelOffset": 10, "labelLimit": 400, "symbolStrokeWidth": 1.6, "symbolSize": 95}},
            "shape": {"field": "series", "type": "nominal",
              "scale": {"domain": ["Oliv West Eifel this work","Opx West Eifel this work","Cpx West Eifel this work","Oliv Siebengebirge","Opx Siebengebirge","oliv PMVF","opx PMVF","cpx PMVF","oliv Lower Silesia","cpx Lower Silesia","opx Lower Silesia","Oliv Tall","Opx Tall","Oliv Calat","Opx Calat","Oliv Kapfenstein","Oliv Massif Central","Oliv West Eifel","Diffusive fract."],
                "range": ["circle","diamond","square","circle","diamond","circle","diamond","square","circle","square","diamond","circle","diamond","circle","diamond","circle","circle","circle","M-2.53,0L2.53,0"]},
              "legend": {"title": null, "orient": "none", "legendX": 641, "legendY": 2, "labelFont": "Liberation Serif", "labelFontSize": 19.8, "labelColor": "#111", "rowPadding": 10.8, "labelOffset": 10, "labelLimit": 400, "symbolStrokeWidth": 1.6, "symbolSize": 95}},
            "size": {"field": "series", "type": "nominal",
              "scale": {"domain": ["Oliv West Eifel this work","Opx West Eifel this work","Cpx West Eifel this work","Oliv Siebengebirge","Opx Siebengebirge","oliv PMVF","opx PMVF","cpx PMVF","oliv Lower Silesia","cpx Lower Silesia","opx Lower Silesia","Oliv Tall","Opx Tall","Oliv Calat","Opx Calat","Oliv Kapfenstein","Oliv Massif Central","Oliv West Eifel","Diffusive fract."],
                "range": [180,200,190,190,200,95,95,110,95,110,95,100,95,100,95,100,100,100,100]},
              "legend": null}
          }}
      ]
    }
  ],
  "config": {
    "view": {"stroke": "#000", "strokeWidth": 2},
    "axis": {"domain": false, "grid": false, "ticks": true, "tickColor": "#000", "tickWidth": 1.3, "tickSize": -6,
      "labelFont": "Liberation Serif", "labelFontSize": 18, "labelColor": "#000",
      "titleFont": "Liberation Serif", "titleFontSize": 28, "titleFontWeight": "bold", "titleColor": "#000",
      "labelOverlap": false, "labelFlush": false, "labelBound": false},
    "axisX": {"labelPadding": 20, "titlePadding": 7},
    "axisY": {"labelPadding": 22, "titlePadding": 8}
  }
}
